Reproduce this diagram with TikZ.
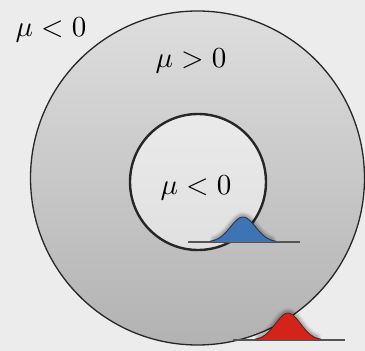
\documentclass[tikz,border=0pt]{standalone}
\usepackage{amsmath,amssymb}
\usepackage{tikz}
\usetikzlibrary{positioning}
\definecolor{PaperBg}{RGB}{236, 236, 236}
\definecolor{RingTop}{RGB}{222, 222, 222}
\definecolor{RingBottom}{RGB}{178, 178, 178}
\definecolor{CoreTop}{RGB}{234, 234, 234}
\definecolor{CoreBottom}{RGB}{224, 224, 224}
\definecolor{BumpBlue}{RGB}{62, 116, 180}
\definecolor{BumpRed}{RGB}{212, 36, 26}
\definecolor{BaseGray}{RGB}{85, 85, 85}

\begin{document}
\begin{tikzpicture}[x=1pt, y=1pt,
        lbl/.style={anchor=base, scale=2.9, inner sep=0pt},
        rim/.style={draw=black!85, line width=1.3pt},
        base/.style={draw=BaseGray, line width=1.2pt},
        glow/.style={draw=black, line cap=round, line join=round}]

        \useasboundingbox (0,0) rectangle (365,351);
        \fill[PaperBg] (0,0) rectangle (365,351);

        % outer ring and inner disc
        \shade[top color=RingTop, bottom color=RingBottom] (197.5,173) circle[radius=167];
        \shade[top color=CoreTop, bottom color=CoreBottom] (198,169) circle[radius=68];
        \draw[rim] (197.5,173) circle[radius=167];
        \draw[rim, line width=2.4pt] (198,169) circle[radius=68];

        % blue bump on inner circle
        \draw[base] (188,109) -- (300,109);
        \foreach \w/\o in {9/0.05, 6/0.08, 3.5/0.12}
          \draw[glow, line width=\w pt, opacity=\o] plot[domain=214:272, samples=40] (\x, {110+25*exp(-0.5*pow((\x-243)/12.5,2))});
        \fill[BumpBlue] plot[domain=210:276, samples=50] (\x, {109+25*exp(-0.5*pow((\x-243)/12.5,2))}) -- (276,109) -- (210,109) -- cycle;
        \draw[black!80, line width=0.9pt] plot[domain=210:276, samples=50] (\x, {109+25*exp(-0.5*pow((\x-243)/12.5,2))});

        % red bump on outer circle
        \draw[base] (233,11) -- (345,11);
        \foreach \w/\o in {9/0.05, 6/0.08, 3.5/0.12}
          \draw[glow, line width=\w pt, opacity=\o] plot[domain=259:317, samples=40] (\x, {12+27*exp(-0.5*pow((\x-288)/12.5,2))});
        \fill[BumpRed] plot[domain=255:321, samples=50] (\x, {11+27*exp(-0.5*pow((\x-288)/12.5,2))}) -- (321,11) -- (255,11) -- cycle;
        \draw[black!80, line width=0.9pt] plot[domain=255:321, samples=50] (\x, {11+27*exp(-0.5*pow((\x-288)/12.5,2))});

        \node[lbl] (muout) at (51,314) {$\mu<0$};
        \node[lbl] (mupos) at (191,283) {$\mu>0$};
        \node[lbl] (muin) at (196,156) {$\mu<0$};
      \end{tikzpicture}
\end{document}
